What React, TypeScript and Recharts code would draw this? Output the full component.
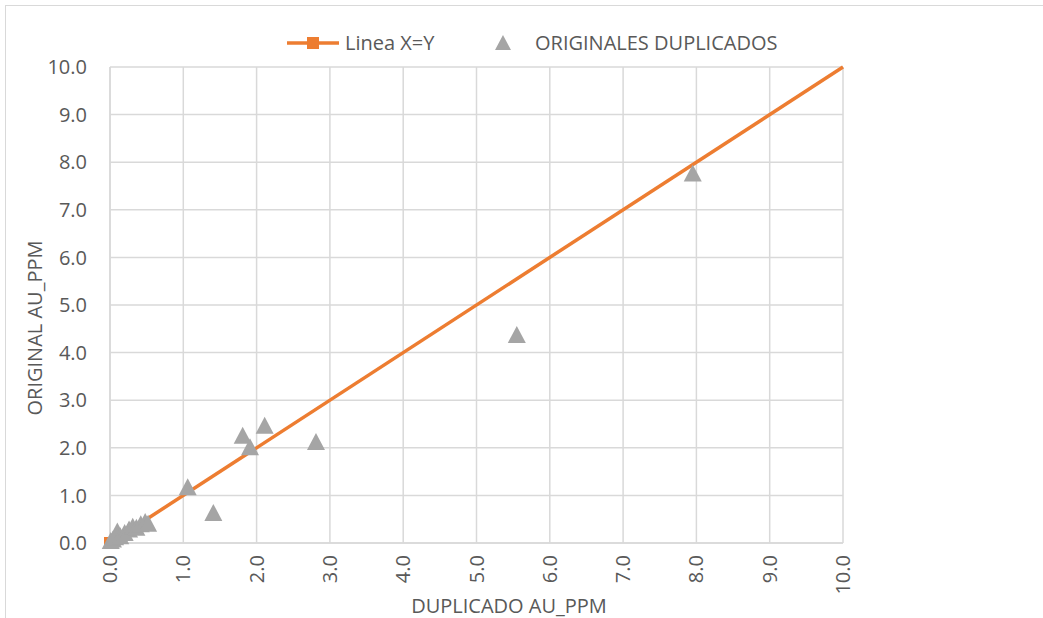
import { ScatterChart, Scatter, XAxis, YAxis, CartesianGrid, Legend } from "recharts";

// axis ticks (both axes share the same 0..10 scale)
const ticks = [0, 1, 2, 3, 4, 5, 6, 7, 8, 9, 10];

// reference line X = Y
const lineX = [0, 10];
const lineY = [0, 10];

// duplicate vs original gold assays (ppm)
const duplicadoAu = [
  0.01, 0.04, 0.07, 0.1, 0.14, 0.2, 0.26, 0.31, 0.36, 0.42, 0.48, 0.52,
  1.06, 1.41, 1.81, 1.91, 2.11, 2.81, 5.55, 7.95,
];
const originalAu = [
  0.0, 0.03, 0.08, 0.2, 0.1, 0.17, 0.24, 0.3, 0.28, 0.35, 0.4, 0.36,
  1.13, 0.59, 2.21, 1.97, 2.42, 2.08, 4.33, 7.72,
];

const lineData = lineX.map((x, i) => ({ x, y: lineY[i] }));
const dupData = duplicadoAu.map((x, i) => ({ x, y: originalAu[i] }));

const ORANGE = "#ED7D31";
const GRAY = "#A5A5A5";
const TEXT = "#595959";
const FONT = "'Open Sans', sans-serif";

const fmt = (v: number) => v.toFixed(1);

function Triangle(props: any) {
  const { cx, cy } = props;
  if (cx == null || cy == null) return null;
  const w = 9;
  return (
    <path
      d={`M${cx},${cy - 11} L${cx + w},${cy + 6} L${cx - w},${cy + 6} Z`}
      fill={GRAY}
    />
  );
}

function SquareMarker(props: any) {
  const { cx, cy, payload, index } = props;
  // only the start of the line shows its marker, the end sits outside the frame
  const isStart = payload ? payload.x === 0 : index === 0;
  if (cx == null || cy == null || !isStart) return <g />;
  return <rect x={cx - 6} y={cy - 6} width={12} height={12} fill={ORANGE} />;
}

function XTick(props: any) {
  const { x, y, payload } = props;
  return (
    <text
      x={x}
      y={y}
      transform={`rotate(-90, ${x}, ${y})`}
      textAnchor="end"
      dy="0.35em"
      fill={TEXT}
      fontSize={20}
      fontFamily={FONT}
    >
      {fmt(payload.value)}
    </text>
  );
}

function LegendContent() {
  return (
    <svg width={1043} height={30} style={{ display: "block" }}>
      <line x1={287} y1={15} x2={339} y2={15} stroke={ORANGE} strokeWidth={3.5} />
      <rect x={307} y={9} width={12} height={12} fill={ORANGE} />
      <text x={345} y={15} dy="0.35em" fill={TEXT} fontSize={20} fontFamily={FONT}>
        Linea X=Y
      </text>
      <path d="M503,7 L511,22 L495,22 Z" fill={GRAY} />
      <text x={535} y={15} dy="0.35em" fill={TEXT} fontSize={20} fontFamily={FONT}>
        ORIGINALES DUPLICADOS
      </text>
    </svg>
  );
}

export default function App() {
  return (
    <div
      style={{
        position: "absolute",
        left: 0,
        top: 0,
        width: 1043,
        height: 618,
        overflow: "hidden",
        background: "#fff",
      }}
    >
      <div
        style={{
          position: "absolute",
          left: 5,
          top: 5,
          width: 1100,
          height: 700,
          border: "1.5px solid #d9d9d9",
        }}
      />
      <ScatterChart
        width={1043}
        height={618}
        margin={{ top: 37, right: 200, bottom: 0, left: 0 }}
        style={{ position: "absolute", left: 0, top: 0 }}
      >
        <CartesianGrid stroke="#d9d9d9" strokeWidth={1.5} />
        <XAxis
          type="number"
          dataKey="x"
          domain={[0, 10]}
          ticks={ticks}
          interval={0}
          height={75}
          axisLine={{ stroke: "#d9d9d9", strokeWidth: 1.5 }}
          tickLine={false}
          tickSize={0}
          tickMargin={12}
          tick={<XTick />}
          label={{
            value: "DUPLICADO AU_PPM",
            content: () => (
              <text x={509} y={606} textAnchor="middle" dy="0.35em" fill={TEXT} fontSize={20} fontFamily={FONT}>
                DUPLICADO AU_PPM
              </text>
            ),
          }}
        />
        <YAxis
          type="number"
          dataKey="y"
          domain={[0, 10]}
          ticks={ticks}
          interval={0}
          width={110}
          axisLine={{ stroke: "#d9d9d9", strokeWidth: 1.5 }}
          tickLine={false}
          tickSize={0}
          tickMargin={23}
          tickFormatter={fmt}
          tick={{ fill: TEXT, fontSize: 20, fontFamily: FONT }}
          label={{
            value: "ORIGINAL AU_PPM",
            content: () => (
              <text
                x={35}
                y={328}
                transform="rotate(-90, 35, 328)"
                textAnchor="middle"
                dy="0.35em"
                fill={TEXT}
                fontSize={20}
                fontFamily={FONT}
              >
                ORIGINAL AU_PPM
              </text>
            ),
          }}
        />
        <Legend
          verticalAlign="top"
          content={<LegendContent />}
          wrapperStyle={{ position: "absolute", top: 28, left: 0, width: 1043 }}
        />
        <Scatter
          name="Linea X=Y"
          data={lineData}
          line={{ stroke: ORANGE, strokeWidth: 3.5 }}
          shape={<SquareMarker />}
          isAnimationActive={false}
        />
        <Scatter
          name="ORIGINALES DUPLICADOS"
          data={dupData}
          shape={<Triangle />}
          isAnimationActive={false}
        />
      </ScatterChart>
    </div>
  );
}
